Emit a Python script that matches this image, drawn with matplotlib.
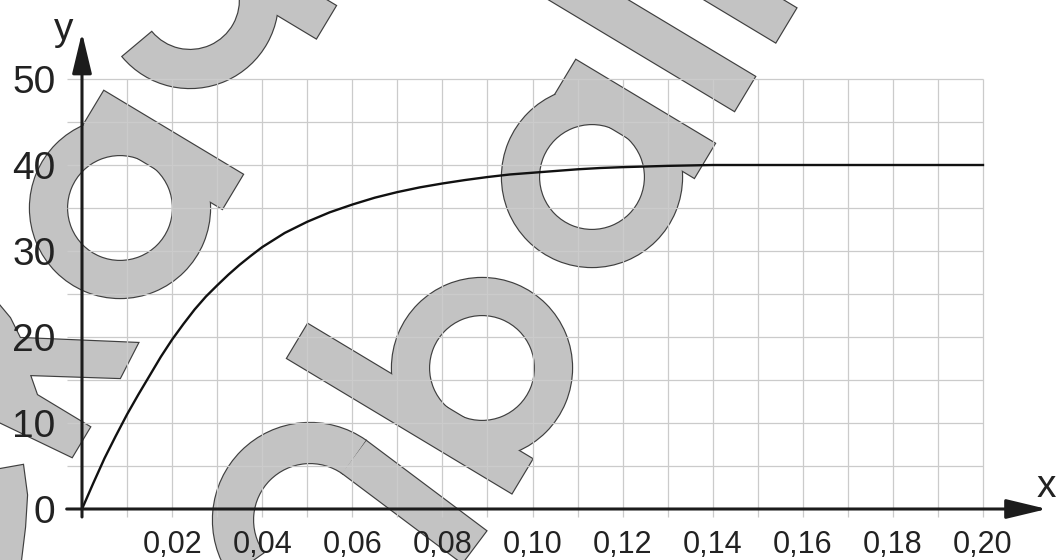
import numpy as np
import matplotlib
matplotlib.use('Agg')
import matplotlib.pyplot as plt
from matplotlib.patches import Wedge, Polygon
from matplotlib.transforms import IdentityTransform

plt.rcParams['font.family'] = ['Liberation Sans', 'DejaVu Sans']

# ---------------- data ----------------
x_vals = [0.0, 0.0025, 0.005, 0.0075, 0.01, 0.0125, 0.015, 0.0175, 0.02, 0.0225,
          0.025, 0.0275, 0.03, 0.0325, 0.035, 0.0375, 0.04, 0.045, 0.05, 0.055,
          0.06, 0.065, 0.07, 0.075, 0.08, 0.085, 0.09, 0.095, 0.10, 0.105, 0.11,
          0.115, 0.12, 0.13, 0.14, 0.15, 0.16, 0.18, 0.20]
y_vals = [0.0, 3.0, 5.9, 8.5, 11.0, 13.3, 15.5, 17.7, 19.7, 21.5,
          23.2, 24.7, 26.0, 27.25, 28.4, 29.45, 30.45, 32.1, 33.4, 34.5,
          35.4, 36.2, 36.85, 37.4, 37.85, 38.25, 38.6, 38.9, 39.1, 39.3, 39.5,
          39.65, 39.75, 39.9, 40.0, 40.0, 40.0, 40.0, 40.0]

x_ticks = [0.02, 0.04, 0.06, 0.08, 0.10, 0.12, 0.14, 0.16, 0.18, 0.20]
x_tick_labels = ['0,02', '0,04', '0,06', '0,08', '0,10', '0,12', '0,14', '0,16', '0,18', '0,20']
y_ticks = [0, 10, 20, 30, 40, 50]
y_tick_labels = ['0', '10', '20', '30', '40', '50']
x_grid = [0.01 * i for i in range(1, 21)]
y_grid = [5 * i for i in range(1, 11)]

# ---------------- figure ----------------
W, H = 1057, 560
fig = plt.figure(figsize=(W / 100, H / 100), dpi=100)
fig.patch.set_facecolor('white')
ax = fig.add_axes([82 / W, 51 / H, 901 / W, 430 / H])
ax.patch.set_visible(False)
for s in ax.spines.values():
    s.set_visible(False)
ax.set_xlim(0, 0.20)
ax.set_ylim(0, 50)

GRID_C = '#cbcbcb'
AX_C = '#1c1c1c'
TXT_C = '#222222'

# grid
ax.vlines(x_grid, -0.93, 50, colors=GRID_C, lw=0.9, clip_on=False, zorder=1)
ax.hlines(y_grid, -0.0034, 0.20, colors=GRID_C, lw=0.9, clip_on=False, zorder=1)

# ticks
ax.set_xticks(x_ticks, x_tick_labels)
ax.set_yticks(y_ticks, y_tick_labels)
ax.tick_params(axis='x', length=0, pad=15, labelsize=22, labelcolor=TXT_C)
ax.tick_params(axis='y', length=0, pad=19, labelsize=28, labelcolor=TXT_C)

# axes arrows
arrow_kw = dict(arrowstyle='-|>,head_length=1.25,head_width=0.3', mutation_scale=20,
                lw=2.2, color=AX_C, shrinkA=0, shrinkB=0)
ax.annotate('', xy=(0.2142, 0), xytext=(-0.0034, 0), arrowprops=arrow_kw,
            annotation_clip=False, zorder=4)
ax.annotate('', xy=(0, 55.4), xytext=(0, -0.93), arrowprops=arrow_kw,
            annotation_clip=False, zorder=4)

# curve
ax.plot(x_vals, y_vals, color='#111111', lw=1.7, zorder=3, clip_on=False,
        solid_joinstyle='round')

# axis names
fig.text(1037 / W, 1 - 487 / H, 'x', ha='left', va='center', fontsize=28, color=TXT_C)
fig.text(64 / W, 1 - 30 / H, 'y', ha='center', va='center', fontsize=28, color=TXT_C)

# ---------------- watermark (decoration behind the chart) ----------------
TH = np.deg2rad(59)
R_HAT = np.array([np.cos(TH), -np.sin(TH)])   # image coords, y down
U_HAT = np.array([-np.sin(TH), -np.cos(TH)])


def disp(p):
    return (p[0], H - p[1])


def rect_local(c, r0, r1, u0, u1):
    c = np.array(c, dtype=float)
    pts = [c + R_HAT * r + U_HAT * u for r, u in [(r0, u0), (r1, u0), (r1, u1), (r0, u1)]]
    return [disp(p) for p in pts]


a1 = (120, 208)
a2 = (592, 177)
bc = (482, 368)
arch_c = (310, 520)
ang = np.deg2rad(55)
P0 = np.array([arch_c[0] + 77 * np.cos(ang), arch_c[1] - 77 * np.sin(ang)])
dvec = np.array([0.8, 0.6])
nvec = np.array([-0.6, 0.8])
arch_bar = [disp(P0 + nvec * 20), disp(P0 + nvec * 20 + dvec * 150),
            disp(P0 - nvec * 20 + dvec * 150), disp(P0 - nvec * 20)]

shapes = [
    lambda: Wedge(disp(a1), 90, 0, 360, width=37),
    lambda: Polygon(rect_local(a1, 52, 92, -88, 74)),
    lambda: Wedge(disp(a2), 90, 0, 360, width=37),
    lambda: Polygon(rect_local(a2, 52, 92, -88, 74)),
    lambda: Polygon(rect_local(a2, 130, 170, -88, 420)),
    lambda: Polygon(rect_local(a2, 210, 250, -88, 420)),
    lambda: Wedge(disp(bc), 90, 0, 360, width=37),
    lambda: Polygon(rect_local(bc, -92, -52, -90, 172)),
    lambda: Wedge(disp((190, 0)), 88, -140, 8, width=38),
    lambda: Polygon(rect_local((326, 22), -19, 19, 0, 120)),
    lambda: Wedge(disp(arch_c), 97, 55, 215, width=40),
    lambda: Polygon(arch_bar),
    lambda: Polygon([disp(p) for p in [(-5, 300), (10, 318), (20, 338), (138, 343), (120, 378),
                                        (30, 375), (37, 395), (90, 427), (72, 457), (-5, 420)]]),
    lambda: Polygon([disp(p) for p in [(-5, 470), (23, 465), (27, 495), (25, 527),
                                        (20, 568), (-5, 568)]]),
]

WM_FILL = '#c3c3c3'
WM_EDGE = '#3f3f3f'
for mk in shapes:
    p1 = mk()
    p1.set(facecolor=WM_EDGE, edgecolor=WM_EDGE, lw=1.7, transform=IdentityTransform(), zorder=-3)
    fig.add_artist(p1)
for mk in shapes:
    p2 = mk()
    p2.set(facecolor=WM_FILL, edgecolor='none', lw=0, transform=IdentityTransform(), zorder=-2)
    fig.add_artist(p2)

fig.savefig('out.png', dpi=100, facecolor='white')
